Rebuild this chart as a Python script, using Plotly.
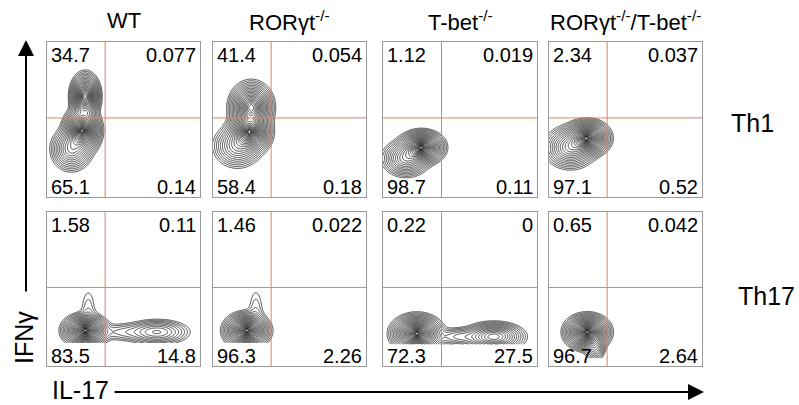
import numpy as np
import plotly.graph_objects as go

# ---------------- data ----------------
col_titles = ["WT", "RORγt<sup>-/-</sup>", "T-bet<sup>-/-</sup>", "RORγt<sup>-/-</sup>/T-bet<sup>-/-</sup>"]
row_labels = ["Th1", "Th17"]

# quadrant percentages (upper-left, upper-right, lower-left, lower-right), per column
th1_ul = ["34.7", "41.4", "1.12", "2.34"]
th1_ur = ["0.077", "0.054", "0.019", "0.037"]
th1_ll = ["65.1", "58.4", "98.7", "97.1"]
th1_lr = ["0.14", "0.18", "0.11", "0.52"]
th17_ul = ["1.58", "1.46", "0.22", "0.65"]
th17_ur = ["0.11", "0.022", "0", "0.042"]
th17_ll = ["83.5", "96.3", "72.3", "96.7"]
th17_lr = ["14.8", "2.26", "27.5", "2.64"]

# quadrant gates (fraction of axis)
gate_x = 0.38
gate_y = 0.51

# cell populations: (centre IL-17, centre IFNg, sd x, sd y, weight)
pops_th1_wt = [(0.25, 0.65, 0.038, 0.058, 0.9), (0.23, 0.43, 0.048, 0.058, 1.0), (0.16, 0.31, 0.055, 0.058, 0.35)]
pops_th1_ror = [(0.25, 0.58, 0.055, 0.062, 0.9), (0.24, 0.42, 0.055, 0.055, 1.0), (0.16, 0.33, 0.065, 0.058, 0.3)]
pops_th1_tbet = [(0.25, 0.32, 0.058, 0.042, 1.0), (0.15, 0.25, 0.062, 0.048, 0.4)]
pops_th1_dko = [(0.25, 0.38, 0.058, 0.045, 1.0), (0.14, 0.32, 0.068, 0.055, 0.45)]
pops_th17_wt = [(0.25, 0.23, 0.058, 0.042, 1.0), (0.27, 0.34, 0.030, 0.100, 0.03), (0.72, 0.22, 0.090, 0.035, 0.22), (0.50, 0.22, 0.090, 0.030, 0.05)]
pops_th17_ror = [(0.22, 0.23, 0.058, 0.045, 1.0), (0.28, 0.34, 0.030, 0.100, 0.03)]
pops_th17_tbet = [(0.22, 0.21, 0.065, 0.048, 1.0), (0.72, 0.19, 0.080, 0.038, 0.5), (0.50, 0.19, 0.080, 0.028, 0.1)]
pops_th17_dko = [(0.25, 0.22, 0.058, 0.045, 1.0), (0.30, 0.12, 0.030, 0.040, 0.15)]

# lowest recorded IFNg value in each panel (data pile-up at the bottom)
floor_th1 = [0.0, 0.0, 0.0, 0.0]
floor_th17 = [0.15, 0.15, 0.14, 0.05]

panels = [
    [pops_th1_wt, pops_th1_ror, pops_th1_tbet, pops_th1_dko],
    [pops_th17_wt, pops_th17_ror, pops_th17_tbet, pops_th17_dko],
]
floors = [floor_th1, floor_th17]
quad = [[th1_ul, th1_ur, th1_ll, th1_lr], [th17_ul, th17_ur, th17_ll, th17_lr]]

# ---------------- layout geometry (pixels) ----------------
W, H = 799, 405
cols_px = [(47, 200), (213, 366), (383, 537), (549, 702)]
rows_px = [(42, 197), (212, 366)]
FONT = "Arial, Liberation Sans, sans-serif"
GATE_COLOR = "#d8865e"
BORDER = "#9a9a9a"

fig = go.Figure()
layout_axes = {}
annotations = []
shapes = []

n_levels = 26
q = 0.3
z_out = 0.012

for r in range(2):
    for c in range(4):
        idx = r * 4 + c + 1
        xs = "" if idx == 1 else str(idx)
        xa, ya = "x" + xs, "y" + xs
        pops = panels[r][c]
        y0 = floors[r][c]
        gx = np.linspace(0.0, 1.0, 260)
        gy = np.linspace(y0, 1.0, 260)
        X, Y = np.meshgrid(gx, gy)
        Z = np.zeros_like(X)
        for (cx, cy, sx, sy, w) in pops:
            Z += w * np.exp(-0.5 * (((X - cx) / sx) ** 2 + ((Y - cy) / sy) ** 2))
        Z = np.clip(Z / Z.max(), 1e-12, 1.0)
        G = -(-np.log(Z)) ** q
        g_lo = -(np.log(1 / z_out)) ** q
        g_hi = -(0.01) ** q
        fig.add_trace(go.Contour(
            x=gx, y=gy, z=G, xaxis=xa, yaxis=ya,
            contours=dict(coloring="lines", start=g_lo, end=g_hi, size=(g_hi - g_lo) / (n_levels - 1)),
            colorscale=[[0, "#111111"], [1, "#111111"]],
            line=dict(width=0.75), showscale=False, hoverinfo="skip",
        ))
        x0p, x1p = cols_px[c]
        y0p, y1p = rows_px[r]
        axcommon = dict(range=[0, 1], showgrid=False, zeroline=False, showticklabels=False,
                        ticks="", showline=True, linecolor=BORDER, linewidth=1, mirror=True, fixedrange=True)
        layout_axes["xaxis" + xs] = dict(domain=[x0p / W, x1p / W], anchor=ya, **axcommon)
        layout_axes["yaxis" + xs] = dict(domain=[1 - y1p / H, 1 - y0p / H], anchor=xa, **axcommon)
        shapes.append(dict(type="line", xref=xa, yref=ya, x0=gate_x, x1=gate_x, y0=0, y1=1,
                           line=dict(color=GATE_COLOR, width=1)))
        shapes.append(dict(type="line", xref=xa, yref=ya, x0=0, x1=1, y0=gate_y, y1=gate_y,
                           line=dict(color=GATE_COLOR, width=1)))
        ul, ur, ll, lr = [quad[r][k][c] for k in range(4)]
        dx, dy = xa + " domain", ya + " domain"
        f = dict(family=FONT, size=20, color="black")
        annotations += [
            dict(text=ul, x=0, y=1, xref=dx, yref=dy, xanchor="left", yanchor="top", showarrow=False, font=f, xshift=2, yshift=0),
            dict(text=ur, x=1, y=1, xref=dx, yref=dy, xanchor="right", yanchor="top", showarrow=False, font=f, xshift=-2, yshift=0),
            dict(text=ll, x=0, y=0, xref=dx, yref=dy, xanchor="left", yanchor="bottom", showarrow=False, font=f, xshift=2, yshift=-3),
            dict(text=lr, x=1, y=0, xref=dx, yref=dy, xanchor="right", yanchor="bottom", showarrow=False, font=f, xshift=-2, yshift=-3),
        ]

# column titles
for c, t in enumerate(col_titles):
    x0p, x1p = cols_px[c]
    annotations.append(dict(text=t, x=(x0p + x1p) / 2 / W, y=1 - 21 / H, xref="paper", yref="paper",
                            xanchor="center", yanchor="middle", showarrow=False,
                            font=dict(family=FONT, size=22, color="black")))
# row labels
row_label_pos = [(752, 123), (766, 296)]
for r, t in enumerate(row_labels):
    px, py = row_label_pos[r]
    annotations.append(dict(text=t, x=px / W, y=1 - py / H, xref="paper", yref="paper",
                            xanchor="center", yanchor="middle", showarrow=False,
                            font=dict(family=FONT, size=25, color="black")))

# axis labels
annotations.append(dict(text="IFNγ", x=24 / W, y=1 - 338 / H, xref="paper", yref="paper",
                        xanchor="center", yanchor="middle", textangle=-90, showarrow=False,
                        font=dict(family=FONT, size=25, color="black")))
annotations.append(dict(text="IL-17", x=80 / W, y=1 - 390 / H, xref="paper", yref="paper",
                        xanchor="center", yanchor="middle", showarrow=False,
                        font=dict(family=FONT, size=25, color="black")))
# axis arrows
annotations.append(dict(text="", x=26 / W, y=1 - 40 / H, xref="paper", yref="paper",
                        ax=0, ay=253, axref="pixel", ayref="pixel", showarrow=True,
                        arrowhead=2, arrowsize=1.6, arrowwidth=2, arrowcolor="black", standoff=0))
annotations.append(dict(text="", x=704 / W, y=1 - 392 / H, xref="paper", yref="paper",
                        ax=-591, ay=0, axref="pixel", ayref="pixel", showarrow=True,
                        arrowhead=2, arrowsize=1.6, arrowwidth=2, arrowcolor="black", standoff=0))

fig.update_layout(
    width=W, height=H, margin=dict(l=0, r=0, t=0, b=0),
    paper_bgcolor="white", plot_bgcolor="white", showlegend=False,
    annotations=annotations, shapes=shapes, **layout_axes,
)
fig.write_html("out.html", config={"displayModeBar": False},
               post_script="document.body.style.margin='0px';document.body.style.overflow='hidden';")
